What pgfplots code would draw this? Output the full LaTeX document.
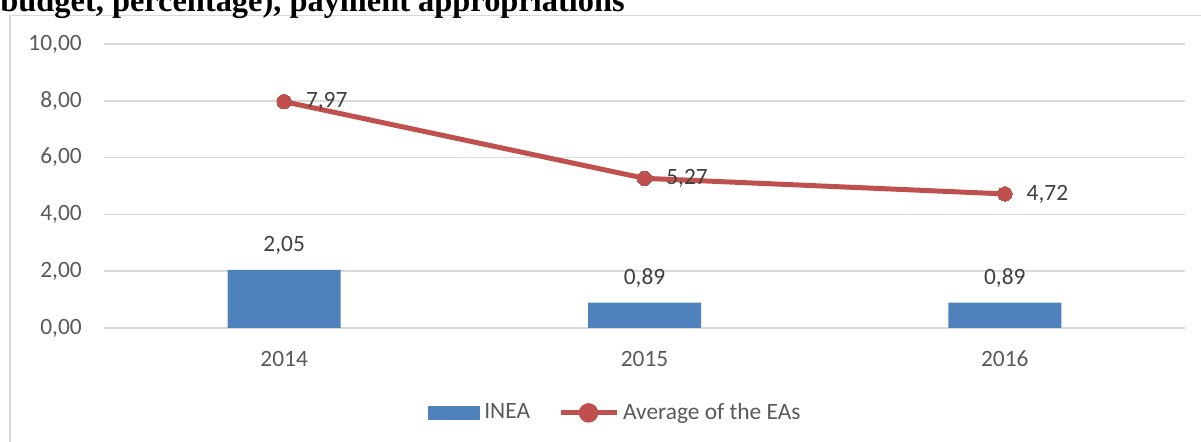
\documentclass[border=0pt]{standalone}
\usepackage{pgfplots}
\pgfplotsset{compat=1.18}
\usepackage{fontspec}
\setmainfont{Carlito}
\newfontfamily\titlefont{Liberation Serif}
\definecolor{barblue}{HTML}{4F81BD}
\definecolor{linered}{HTML}{C0504D}
\definecolor{gridgray}{HTML}{D9D9D9}
\definecolor{ticktext}{HTML}{595959}
\definecolor{labeltext}{HTML}{404040}
\begin{document}
\begin{tikzpicture}
\path[use as bounding box] (0pt,0pt) rectangle (600.5pt,221pt);
\begin{axis}[
  at={(52pt,57pt)}, anchor=south west,
  scale only axis, width=540.5pt, height=142pt,
  xmin=-0.5, xmax=2.5, ymin=0, ymax=10,
  ytick={0,2,4,6,8,10},
  xtick={0,1,2}, xticklabels={2014,2015,2016},
  axis line style={draw=none},
  major tick length=0pt,
  ymajorgrids, grid style={gridgray, line width=0.75pt},
  /pgf/number format/.cd, fixed, fixed zerofill, precision=2, use comma, assume math mode=true,
  /pgfplots/.cd,
  tick label style={font=\fontsize{11.7}{14}\selectfont, text=ticktext},
  yticklabel style={xshift=-7.6pt},
  xticklabel style={yshift=-8pt},
  clip=false,
  legend style={at={(0.474,-0.299)}, anchor=center, draw=none, fill=none,
    font=\fontsize{11.7}{14}\selectfont, text=ticktext,
    /tikz/every even column/.append style={column sep=12pt},
    inner sep=0pt},
  legend columns=2,
]
\addplot[ybar, bar width=56.5pt, bar shift=0pt, fill=barblue, draw=none,
  nodes near coords,
  nodes near coords style={anchor=south, yshift=4pt, font=\fontsize{11.7}{14}\selectfont, text=labeltext},
  legend image code/.code={\fill[barblue] (0pt,-3.5pt) rectangle (26pt,3.5pt);}]
  coordinates {(0,2.05) (1,0.89) (2,0.89)};
\addlegendentry{INEA}
\addplot[linered, line width=2.5pt, mark=*, mark size=3.6pt, mark options={fill=linered, draw=linered, line width=0pt},
  nodes near coords,
  nodes near coords style={anchor=west, xshift=7.6pt, font=\fontsize{11.7}{14}\selectfont, text=labeltext},
  legend image code/.code={\draw[linered, line width=2.5pt] (0pt,0pt) -- (28pt,0pt); \fill[linered] (14pt,0pt) circle (3.6pt);}]
  coordinates {(0,7.97) (1,5.27) (2,4.72)};
\addlegendentry{Average of the EAs}
\end{axis}
\begin{pgfinterruptboundingbox}
\begin{scope}
\clip (0pt,0pt) rectangle (600.5pt,221pt);
\draw[gridgray, line width=0.75pt] (5pt,-5pt) -- (5pt,213.2pt) -- (610pt,213.2pt);
\node[anchor=base west, font=\titlefont\bfseries\fontsize{16.2}{19}\selectfont, inner sep=0pt] at (0pt,215pt) {budget, percentage), payment appropriations};
\end{scope}
\end{pgfinterruptboundingbox}
\end{tikzpicture}
\end{document}
